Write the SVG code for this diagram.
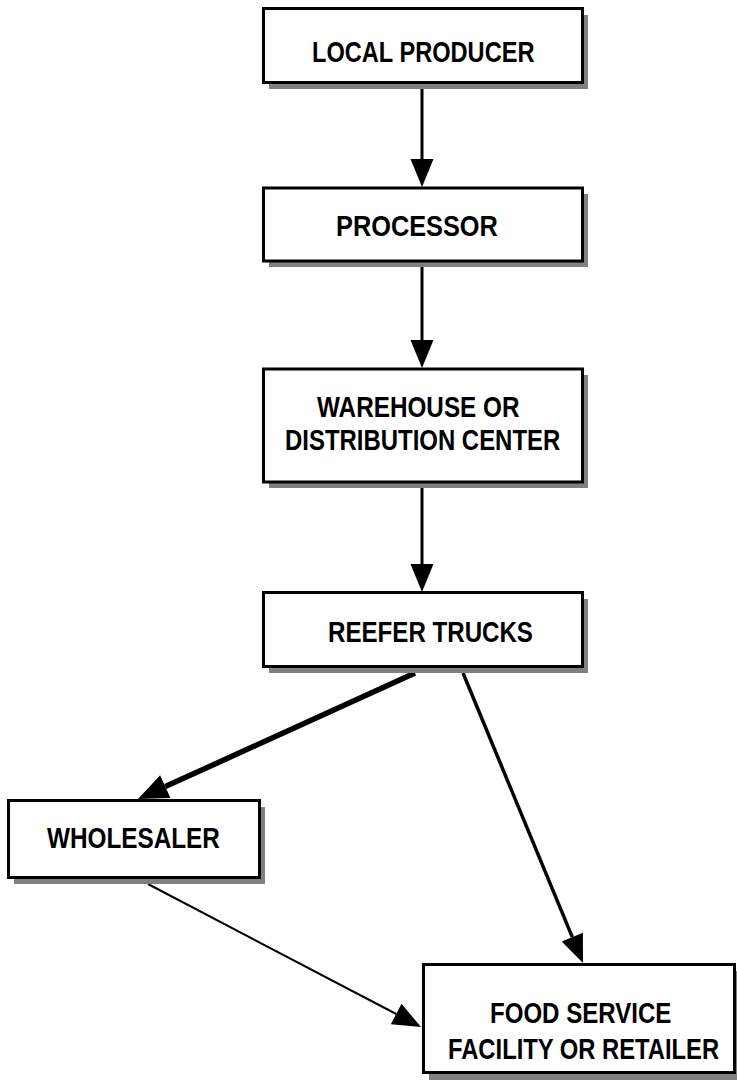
<svg xmlns="http://www.w3.org/2000/svg" width="737" height="1080" viewBox="0 0 737 1080">
<style>
.shadow{fill:#808080;stroke:none}
.box{fill:#ffffff;stroke:#000000;stroke-width:3}
.lbl{font-family:"Liberation Sans",Arial,sans-serif;font-weight:bold;font-size:29px;fill:#000000}
.conn{stroke:#000000;fill:none;stroke-linecap:butt}
</style>
<defs>
<marker id="ah" viewBox="0 -12 30 24" markerWidth="30" markerHeight="24" refX="0" refY="0" markerUnits="userSpaceOnUse" orient="auto" overflow="visible">
<path d="M0,-11.5 L28,0 L0,11.5 Z" fill="#000000"/>
</marker>
<marker id="ahb" viewBox="0 -13 32 26" markerWidth="32" markerHeight="26" refX="0" refY="0" markerUnits="userSpaceOnUse" orient="auto" overflow="visible">
<path d="M0,-12.5 L30,0 L0,12.5 Z" fill="#000000"/>
</marker>
</defs>
<rect width="737" height="1080" fill="#ffffff"/>
<g id="connectors">
<line class="conn" x1="422" y1="89" x2="422" y2="159" stroke-width="3" marker-end="url(#ah)"/>
<line class="conn" x1="422" y1="267" x2="422" y2="340" stroke-width="3" marker-end="url(#ah)"/>
<line class="conn" x1="422" y1="488" x2="422" y2="564" stroke-width="3" marker-end="url(#ah)"/>
<line class="conn" x1="415" y1="673" x2="165.3" y2="786.6" stroke-width="5.5" marker-end="url(#ahb)"/>
<line class="conn" x1="463" y1="673" x2="572.3" y2="937.1" stroke-width="3.5" marker-end="url(#ah)"/>
<line class="conn" x1="148" y1="884" x2="396.2" y2="1014" stroke-width="2" marker-end="url(#ah)"/>
</g>
<g id="local-producer">
<rect class="shadow" x="269" y="15" width="319" height="74"/>
<rect class="box" x="263.5" y="8.5" width="319" height="74"/>
<text class="lbl" transform="translate(312,62) scale(0.814,1)">LOCAL PRODUCER</text>
</g>
<g id="processor">
<rect class="shadow" x="269" y="194" width="319" height="73"/>
<rect class="box" x="263.5" y="188" width="319" height="73"/>
<text class="lbl" transform="translate(336,236) scale(0.874,1)">PROCESSOR</text>
</g>
<g id="warehouse">
<rect class="shadow" x="269" y="375" width="319" height="113"/>
<rect class="box" x="263.5" y="369" width="319" height="113"/>
<text class="lbl" transform="translate(317,417) scale(0.838,1)">WAREHOUSE OR</text>
<text class="lbl" transform="translate(285,450) scale(0.826,1)">DISTRIBUTION CENTER</text>
</g>
<g id="reefer-trucks">
<rect class="shadow" x="269" y="599" width="319" height="74"/>
<rect class="box" x="263.5" y="592.5" width="319" height="74"/>
<text class="lbl" transform="translate(328,642) scale(0.832,1)">REEFER TRUCKS</text>
</g>
<g id="wholesaler">
<rect class="shadow" x="14" y="807" width="251" height="77"/>
<rect class="box" x="8.5" y="800.5" width="251" height="77"/>
<text class="lbl" transform="translate(47,848) scale(0.839,1)">WHOLESALER</text>
</g>
<g id="food-service">
<rect class="shadow" x="429" y="971" width="308" height="109"/>
<rect class="box" x="423.5" y="964.5" width="311" height="108"/>
<text class="lbl" transform="translate(490,1023) scale(0.83,1)">FOOD SERVICE</text>
<text class="lbl" transform="translate(448,1059) scale(0.82,1)">FACILITY OR RETAILER</text>
</g>
</svg>
